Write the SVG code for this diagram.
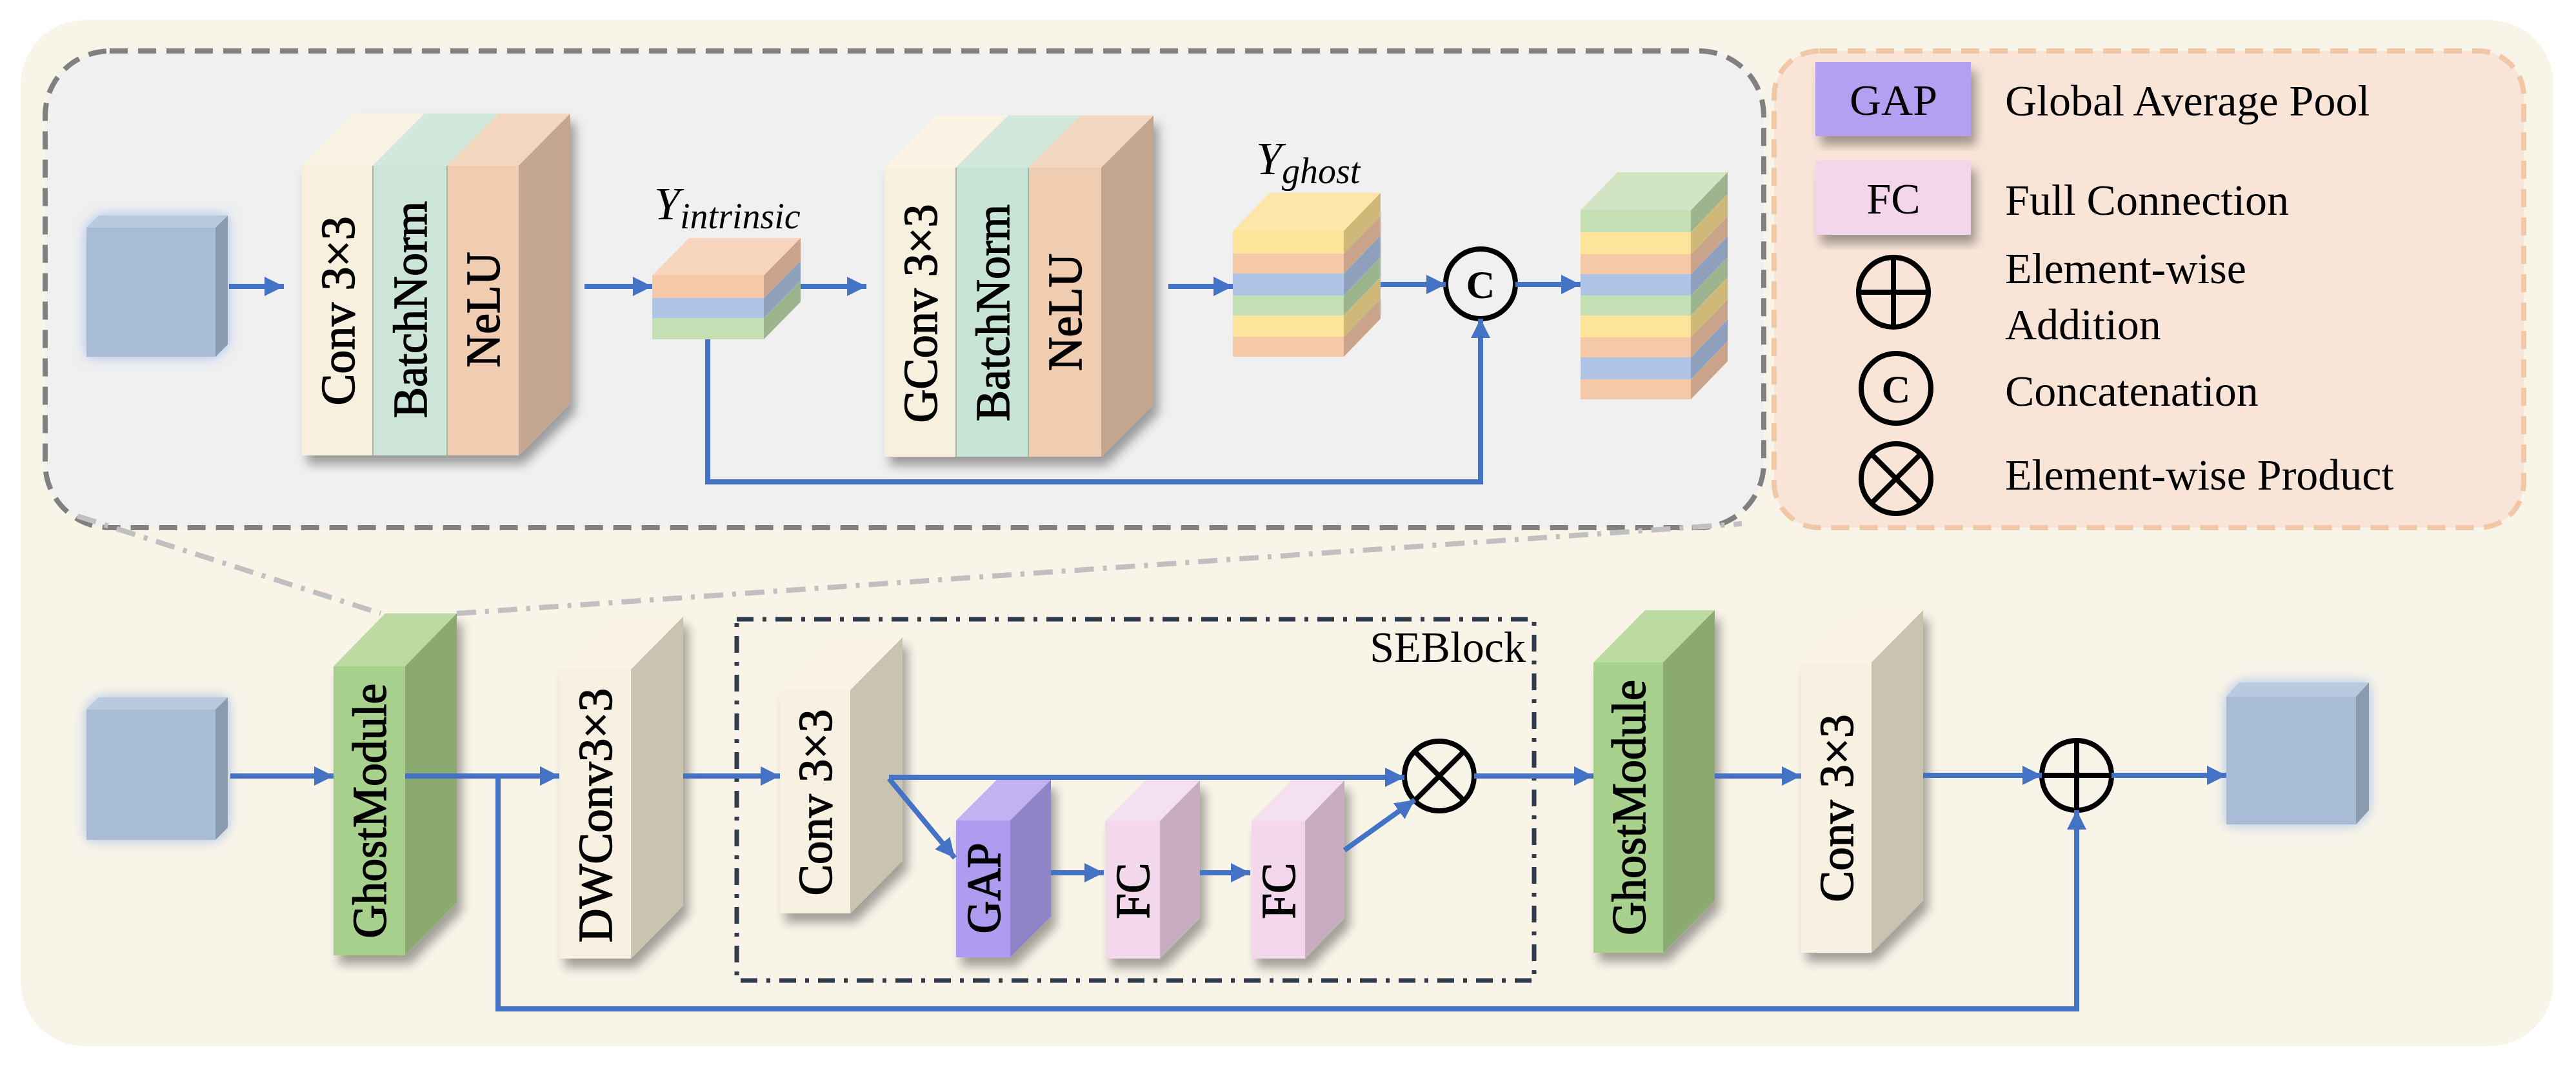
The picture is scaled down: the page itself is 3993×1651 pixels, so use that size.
<svg xmlns="http://www.w3.org/2000/svg" width="3993" height="1651" viewBox="0 0 3993 1651" font-family="'Liberation Serif','Times New Roman',serif">
<defs>
<marker id="ah" viewBox="0 0 10 10" refX="10" refY="5" markerUnits="userSpaceOnUse" markerWidth="30" markerHeight="36" orient="auto"><path d="M0,0 L10,5 L0,10 z" fill="#4472C4"/></marker>
<filter id="sh" x="-30%" y="-10%" width="160%" height="130%"><feDropShadow dx="8" dy="14" stdDeviation="8" flood-color="#000" flood-opacity="0.35"/></filter>
<filter id="glow" x="-30%" y="-30%" width="160%" height="160%"><feDropShadow dx="0" dy="0" stdDeviation="10" flood-color="#9DB7E6" flood-opacity="0.9"/></filter>
</defs>
<style>
text{font-family:'Liberation Serif','Times New Roman',serif}
.lbl{font-size:74px;fill:#000;text-anchor:middle;stroke:#000;stroke-width:1.5}
.leg{font-size:68px;fill:#000}
.big{font-weight:bold;font-size:62px}
.ln{stroke:#4472C4;stroke-width:8;fill:none}
.op{stroke:#000;stroke-width:8;fill:none}
</style>
<rect x="32" y="31" width="3926" height="1591" rx="100" fill="#F8F4E8"/>
<g id="top-box"><rect x="70" y="79" width="2664" height="739" rx="100" fill="#F0F0F0" stroke="#808080" stroke-width="8" stroke-dasharray="28,16"/></g>
<g id="legend"><rect x="2750" y="79" width="1162" height="739" rx="70" fill="#F9E5D8" stroke="#F0C8A8" stroke-width="8" stroke-dasharray="28,16"/>
<rect x="2814" y="96" width="241" height="115" fill="#B3A0F3" filter="url(#sh)"/>
<text x="2935" y="178" class="leg" text-anchor="middle">GAP</text>
<text x="3108" y="179" class="leg">Global Average Pool</text>
<rect x="2814" y="249" width="241" height="115" fill="#F3D5EC" filter="url(#sh)"/>
<text x="2935" y="331" class="leg" text-anchor="middle">FC</text>
<text x="3108" y="333" class="leg">Full Connection</text>
<circle cx="2935" cy="453" r="54" class="op"/><path d="M2881,453H2989M2935,399V507" class="op"/>
<text x="3108" y="439" class="leg">Element-wise</text>
<text x="3108" y="526" class="leg">Addition</text>
<circle cx="2939" cy="602" r="54" class="op"/><text x="2939" y="624" class="leg big" text-anchor="middle">C</text>
<text x="3108" y="629" class="leg">Concatenation</text>
<circle cx="2939" cy="742" r="54" class="op"/><path d="M2901,704L2977,780M2977,704L2901,780" class="op"/>
<text x="3108" y="759" class="leg">Element-wise Product</text>
</g>
<g id="zoom-lines" stroke="#C0C0C0" stroke-width="8" stroke-dasharray="30,14,6,14" fill="none"><path d="M120,800L590,951"/><path d="M708,951L2700,812"/></g>
<g id="se-box"><rect x="1142" y="960" width="1236" height="560" fill="none" stroke="#2F3A4A" stroke-width="7" stroke-dasharray="26,14,6,14"/>
<text x="2365" y="1026" class="leg" text-anchor="end" font-size="56">SEBlock</text></g>

<g id="in-top" filter="url(#glow)"><rect x="134" y="353" width="200" height="200" fill="#A9BCD5"/><polygon points="134,353 153,334 353,334 334,353" fill="#B9CADF"/><polygon points="334,353 353,334 353,534 334,553" fill="#8A9BB0"/></g>

<g id="block1" filter="url(#sh)">
<rect x="468" y="257" width="110" height="449" fill="#F8F0DF"/><rect x="578" y="257" width="115" height="449" fill="#CDE5D8"/><rect x="693" y="257" width="111" height="449" fill="#F0CDB0"/>
<polygon points="468,257 548,176 658,176 578,257" fill="#FAF3E4"/><polygon points="578,257 658,176 773,176 693,257" fill="#D3E8DC"/><polygon points="693,257 773,176 884,176 804,257" fill="#F2D6C0"/>
<polygon points="804,257 884,176 884,625 804,706" fill="#C4A690"/>
<path d="M578,257V706M693,257V706" stroke="#9FB8A8" stroke-width="2"/>
<text class="lbl" transform="translate(523,482) rotate(-90)" dy="26" textLength="293" lengthAdjust="spacingAndGlyphs">Conv 3×3</text>
<text class="lbl" transform="translate(635,480) rotate(-90)" dy="26" textLength="336" lengthAdjust="spacingAndGlyphs">BatchNorm</text>
<text class="lbl" transform="translate(748,480) rotate(-90)" dy="26" textLength="179" lengthAdjust="spacingAndGlyphs">NeLU</text>
</g>

<g id="y-intrinsic">
<polygon points="1011,427 1068,369 1241,369 1184,427" fill="#F7D4BC"/>
<rect x="1011" y="427" width="173" height="35" fill="#F5C9A8"/><rect x="1011" y="462" width="173" height="31" fill="#B0C4E5"/><rect x="1011" y="493" width="173" height="33" fill="#C5DFB5"/>
<polygon points="1184,427 1241,369 1241,404 1184,462" fill="#C9A48A"/><polygon points="1184,462 1241,404 1241,435 1184,493" fill="#8FA0BC"/><polygon points="1184,493 1241,435 1241,468 1184,526" fill="#9DB58F"/>
<text x="1014" y="340" font-style="italic" font-size="72">Y<tspan font-size="56" dy="14">intrinsic</tspan></text>
</g>

<g id="block2" filter="url(#sh)">
<rect x="1371" y="260" width="111" height="448" fill="#F8F0DF"/><rect x="1482" y="260" width="112" height="448" fill="#C8E4D6"/><rect x="1594" y="260" width="113" height="448" fill="#F0CDB0"/>
<polygon points="1371,260 1452,179 1563,179 1482,260" fill="#FAF3E4"/><polygon points="1482,260 1563,179 1675,179 1594,260" fill="#D3E8DC"/><polygon points="1594,260 1675,179 1788,179 1707,260" fill="#F2D6C0"/>
<polygon points="1707,260 1788,179 1788,627 1707,708" fill="#C4A690"/>
<path d="M1482,260V708M1594,260V708" stroke="#9FB8A8" stroke-width="2"/>
<text class="lbl" transform="translate(1426,486) rotate(-90)" dy="26" textLength="339" lengthAdjust="spacingAndGlyphs">GConv 3×3</text>
<text class="lbl" transform="translate(1538,485) rotate(-90)" dy="26" textLength="336" lengthAdjust="spacingAndGlyphs">BatchNorm</text>
<text class="lbl" transform="translate(1650,484) rotate(-90)" dy="26" textLength="182" lengthAdjust="spacingAndGlyphs">NeLU</text>
</g>

<g id="y-ghost">
<polygon points="1911,358 1968,299 2140,299 2083,358" fill="#FDE6A8"/>
<rect x="1911" y="358" width="172" height="35" fill="#FEE49A"/><rect x="1911" y="393" width="172" height="31" fill="#F5C9A8"/><rect x="1911" y="424" width="172" height="34" fill="#B0C4E5"/><rect x="1911" y="458" width="172" height="31" fill="#C5DFB5"/><rect x="1911" y="489" width="172" height="33" fill="#FEE49A"/><rect x="1911" y="522" width="172" height="31" fill="#F5C9A8"/>
<polygon points="2083,358 2140,299 2140,334 2083,393" fill="#CFB978"/><polygon points="2083,393 2140,334 2140,365 2083,424" fill="#C9A48A"/><polygon points="2083,424 2140,365 2140,399 2083,458" fill="#8FA0BC"/><polygon points="2083,458 2140,399 2140,430 2083,489" fill="#9DB58F"/><polygon points="2083,489 2140,430 2140,463 2083,522" fill="#CFB978"/><polygon points="2083,522 2140,463 2140,494 2083,553" fill="#C9A48A"/>
<text x="1947" y="270" font-style="italic" font-size="72">Y<tspan font-size="56" dy="14">ghost</tspan></text>
</g>

<g id="concat"><circle cx="2295" cy="440" r="54" class="op" fill="#F0F0F0"/><text x="2295" y="462" class="leg big" text-anchor="middle">C</text></g>

<g id="out-top">
<polygon points="2450,326 2507,267 2678,267 2621,326" fill="#D1E5C4"/>
<rect x="2450" y="326" width="171" height="34" fill="#C5DFB5"/><rect x="2450" y="360" width="171" height="34" fill="#FEE49A"/><rect x="2450" y="394" width="171" height="31" fill="#F5C9A8"/><rect x="2450" y="425" width="171" height="33" fill="#B0C4E5"/><rect x="2450" y="458" width="171" height="31" fill="#C5DFB5"/><rect x="2450" y="489" width="171" height="34" fill="#FEE49A"/><rect x="2450" y="523" width="171" height="31" fill="#F5C9A8"/><rect x="2450" y="554" width="171" height="34" fill="#B0C4E5"/><rect x="2450" y="588" width="171" height="31" fill="#F5C9A8"/>
<polygon points="2621,326 2678,267 2678,301 2621,360" fill="#9DB58F"/><polygon points="2621,360 2678,301 2678,335 2621,394" fill="#CFB978"/><polygon points="2621,394 2678,335 2678,366 2621,425" fill="#C9A48A"/><polygon points="2621,425 2678,366 2678,399 2621,458" fill="#8FA0BC"/><polygon points="2621,458 2678,399 2678,430 2621,489" fill="#9DB58F"/><polygon points="2621,489 2678,430 2678,464 2621,523" fill="#CFB978"/><polygon points="2621,523 2678,464 2678,495 2621,554" fill="#C9A48A"/><polygon points="2621,554 2678,495 2678,529 2621,588" fill="#8FA0BC"/><polygon points="2621,588 2678,529 2678,560 2621,619" fill="#C9A48A"/>
</g>

<g id="in-bottom" filter="url(#glow)"><rect x="134" y="1100" width="200" height="202" fill="#A9BCD5"/><polygon points="134,1100 153,1081 353,1081 334,1100" fill="#B9CADF"/><polygon points="334,1100 353,1081 353,1283 334,1302" fill="#8A9BB0"/></g>

<g id="ghost1" filter="url(#sh)"><rect x="517" y="1033" width="111" height="448" fill="#A8D18D"/><polygon points="517,1033 597,951 708,951 628,1033" fill="#BBDBA3"/><polygon points="628,1033 708,951 708,1399 628,1481" fill="#8AAA72"/>
<text class="lbl" transform="translate(572,1257) rotate(-90)" dy="26" textLength="395" lengthAdjust="spacingAndGlyphs">GhostModule</text></g>

<g id="dwconv" filter="url(#sh)"><rect x="867" y="1038" width="111" height="448" fill="#F8F0E0"/><polygon points="867,1038 948,956 1059,956 978,1038" fill="#FAF4E6"/><polygon points="978,1038 1059,956 1059,1404 978,1486" fill="#C9C3B1"/>
<text class="lbl" transform="translate(922,1264) rotate(-90)" dy="26" textLength="394" lengthAdjust="spacingAndGlyphs">DWConv3×3</text></g>

<g id="se-conv" filter="url(#sh)"><rect x="1209" y="1070" width="109" height="346" fill="#F8F0E0"/><polygon points="1209,1070 1290,988 1399,988 1318,1070" fill="#FAF4E6"/><polygon points="1318,1070 1399,988 1399,1334 1318,1416" fill="#C9C3B1"/>
<text class="lbl" transform="translate(1263,1244) rotate(-90)" dy="26" textLength="289" lengthAdjust="spacingAndGlyphs">Conv 3×3</text></g>

<g id="gap" filter="url(#sh)"><rect x="1482" y="1272" width="84" height="212" fill="#AE9CF0"/><polygon points="1482,1272 1545,1209 1629,1209 1566,1272" fill="#C0B2F3"/><polygon points="1566,1272 1629,1209 1629,1421 1566,1484" fill="#8E84C8"/>
<text class="lbl" transform="translate(1524,1377) rotate(-90)" dy="26" textLength="141" lengthAdjust="spacingAndGlyphs">GAP</text></g>

<g id="fc1" filter="url(#sh)"><rect x="1713" y="1273" width="85" height="213" fill="#F3D8EC"/><polygon points="1713,1273 1775,1210 1860,1210 1798,1273" fill="#F5E0F0"/><polygon points="1798,1273 1860,1210 1860,1423 1798,1486" fill="#C8ADC2"/>
<text class="lbl" transform="translate(1755,1381) rotate(-90)" dy="26" textLength="87" lengthAdjust="spacingAndGlyphs">FC</text></g>

<g id="fc2" filter="url(#sh)"><rect x="1940" y="1273" width="83" height="213" fill="#F3D8EC"/><polygon points="1940,1273 2001,1210 2084,1210 2023,1273" fill="#F5E0F0"/><polygon points="2023,1273 2084,1210 2084,1423 2023,1486" fill="#C8ADC2"/>
<text class="lbl" transform="translate(1981,1381) rotate(-90)" dy="26" textLength="87" lengthAdjust="spacingAndGlyphs">FC</text></g>

<g id="product"><circle cx="2231" cy="1203" r="54" class="op"/><path d="M2193,1165L2269,1241M2269,1165L2193,1241" class="op"/></g>

<g id="ghost2" filter="url(#sh)"><rect x="2470" y="1027" width="108" height="450" fill="#A8D18D"/><polygon points="2470,1027 2550,946 2658,946 2578,1027" fill="#BBDBA3"/><polygon points="2578,1027 2658,946 2658,1396 2578,1477" fill="#8AAA72"/>
<text class="lbl" transform="translate(2524,1252) rotate(-90)" dy="26" textLength="396" lengthAdjust="spacingAndGlyphs">GhostModule</text></g>

<g id="conv-final" filter="url(#sh)"><rect x="2792" y="1027" width="109" height="450" fill="#F8F0E0"/><polygon points="2792,1027 2872,946 2981,946 2901,1027" fill="#FAF4E6"/><polygon points="2901,1027 2981,946 2981,1396 2901,1477" fill="#C9C3B1"/>
<text class="lbl" transform="translate(2846,1253) rotate(-90)" dy="26" textLength="291" lengthAdjust="spacingAndGlyphs">Conv 3×3</text></g>

<g id="add"><circle cx="3219" cy="1202" r="54" class="op"/><path d="M3165,1202H3273M3219,1148V1256" class="op"/></g>

<g id="out-bottom" filter="url(#glow)"><rect x="3451" y="1080" width="201" height="198" fill="#A9BCD5"/><polygon points="3451,1080 3471,1058 3672,1058 3652,1080" fill="#B9CADF"/><polygon points="3652,1080 3672,1058 3672,1256 3652,1278" fill="#8A9BB0"/></g>

<g id="connectors">
<path d="M355,444H440" class="ln" marker-end="url(#ah)"/>
<path d="M906,444H1011" class="ln" marker-end="url(#ah)"/>
<path d="M1241,444H1343" class="ln" marker-end="url(#ah)"/>
<path d="M1811,444H1911" class="ln" marker-end="url(#ah)"/>
<path d="M2140,441H2241" class="ln" marker-end="url(#ah)"/>
<path d="M2349,441H2450" class="ln" marker-end="url(#ah)"/>
<path d="M1097,526V747H2295V494" class="ln" marker-end="url(#ah)"/>
<path d="M357,1203H517" class="ln" marker-end="url(#ah)"/>
<path d="M628,1203H867" class="ln" marker-end="url(#ah)"/>
<path d="M1059,1203H1209" class="ln" marker-end="url(#ah)"/>
<path d="M1378,1205H2177" class="ln" marker-end="url(#ah)"/>
<path d="M1378,1207L1480,1330" class="ln" marker-end="url(#ah)"/>
<path d="M1629,1353H1711" class="ln" marker-end="url(#ah)"/>
<path d="M1860,1353H1938" class="ln" marker-end="url(#ah)"/>
<path d="M2084,1318L2193,1240" class="ln" marker-end="url(#ah)"/>
<path d="M2285,1203H2470" class="ln" marker-end="url(#ah)"/>
<path d="M2658,1203H2792" class="ln" marker-end="url(#ah)"/>
<path d="M2981,1202H3165" class="ln" marker-end="url(#ah)"/>
<path d="M3273,1202H3451" class="ln" marker-end="url(#ah)"/>
<path d="M772,1203V1564H3219V1256" class="ln" marker-end="url(#ah)"/>
</g>
</svg>
